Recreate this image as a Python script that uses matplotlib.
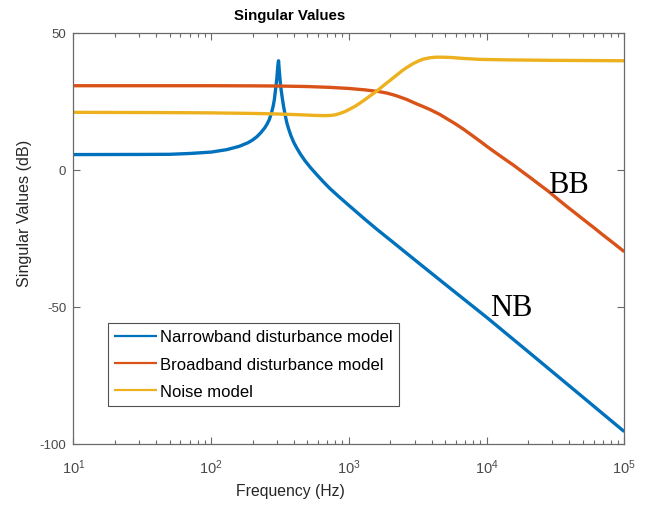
import matplotlib
matplotlib.use("Agg")
import matplotlib.pyplot as plt
from matplotlib.ticker import LogLocator, FixedLocator, NullLocator

plt.rcParams['font.family'] = ['Liberation Sans', 'DejaVu Sans']
plt.rcParams['mathtext.fontset'] = 'custom'
plt.rcParams['mathtext.rm'] = 'Liberation Sans'
plt.rcParams['mathtext.it'] = 'Liberation Sans:italic'
plt.rcParams['mathtext.bf'] = 'Liberation Sans:bold'
plt.rcParams['axes.unicode_minus'] = False

# ---- data ----
freq_nb = [10, 30, 50, 70, 100, 130, 160, 185, 200, 215, 230, 245, 255, 265, 275, 282, 288,
           292, 296, 300, 303, 306, 309,
           313, 316, 320, 327, 335, 345, 354, 366, 380, 398, 419, 445, 480, 530, 585, 650,
           730, 850, 1000, 1300, 1600, 2000, 3000, 5000, 10000, 20000, 50000, 100000]
mag_nb = [5.5, 5.55, 5.6, 5.9, 6.4, 7.3, 8.5, 9.8, 10.8, 12.0, 13.5, 15.2, 16.6, 18.3, 20.8, 23.0, 25.5,
          28.0, 30.5, 33.0, 35.8, 38.3, 39.7,
          36.0, 33.5, 30.5, 27.0, 23.5, 20.0, 17.3, 14.8, 12.4, 10.0, 7.9, 5.7, 3.3, 0.6, -1.8, -4.3,
          -6.9, -9.9, -13.0, -17.95, -21.75, -25.65, -32.8, -41.75, -53.8, -66.3, -82.9, -95.5]

freq_bb = [10, 100, 200, 300, 500, 730, 1000, 1300, 1640, 1900, 2200, 2630, 3100, 3500, 3890,
           4590, 5140, 5900, 6780, 7800, 8950, 10300, 11860, 13600, 15630, 18000, 20650, 24000,
           28000, 33000, 38000, 44000, 50000, 60000, 70000, 85000, 100000]
mag_bb = [30.6, 30.6, 30.55, 30.5, 30.3, 30.0, 29.6, 29.1, 28.5, 27.9, 27.0, 25.6, 24.0, 22.9, 21.9,
          20.1, 18.6, 16.8, 14.8, 12.6, 10.4, 8.1, 5.9, 3.8, 1.7, -0.6, -2.8, -5.3,
          -7.8, -10.8, -13.3, -15.8, -18.0, -21.1, -23.8, -27.1, -29.9]

freq_noise = [10, 50, 100, 200, 306, 450, 550, 650, 731, 800, 863, 940, 1020, 1110, 1208, 1300,
              1400, 1520, 1640, 1800, 2000, 2230, 2430, 2630, 2940, 3200, 3475, 3880, 4300, 4800,
              5500, 7000, 8950, 15000, 30000, 100000]
mag_noise = [20.9, 20.8, 20.7, 20.5, 20.3, 20.0, 19.8, 19.7, 19.75, 20.0, 20.5, 21.2, 22.1, 23.1, 24.3, 25.4,
             26.6, 27.9, 29.1, 30.8, 32.6, 34.5, 36.0, 37.2, 38.7, 39.6, 40.3, 40.8, 41.0, 41.0,
             40.9, 40.5, 40.2, 40.0, 39.85, 39.7]

series_labels = ['Narrowband disturbance model', 'Broadband disturbance model', 'Noise model']
series_colors = ['#0072BD', '#D95319', '#EDB120']
y_ticks = [-100, -50, 0, 50]
x_limits = [10, 100000]
y_limits = [-100, 50]

# ---- figure ----
W, H = 648, 506
fig = plt.figure(figsize=(W / 100, H / 100), dpi=100)
ax = fig.add_axes([73.3 / W, (H - 445) / H, 551 / W, 411.5 / H])

lw = 2.4
for fx, my, c, lab in [(freq_nb, mag_nb, series_colors[0], series_labels[0]),
                       (freq_bb, mag_bb, series_colors[1], series_labels[1]),
                       (freq_noise, mag_noise, series_colors[2], series_labels[2])]:
    ax.plot(fx, my, color=c, lw=lw, label=lab, solid_joinstyle='round', solid_capstyle='butt')

ax.set_xscale('log')
ax.set_xlim(x_limits)
ax.set_ylim(y_limits)
ax.yaxis.set_major_locator(FixedLocator(y_ticks))
ax.yaxis.set_minor_locator(NullLocator())
ax.xaxis.set_major_locator(LogLocator(base=10, numticks=10))
ax.xaxis.set_minor_locator(LogLocator(base=10, subs=range(2, 10), numticks=20))

spine_c = '#6a6a6a'
for s in ax.spines.values():
    s.set_color(spine_c)
    s.set_linewidth(0.9)
ax.tick_params(which='both', direction='in', top=True, right=True, color=spine_c,
               labelcolor='#4a4a4a', width=0.8)
ax.tick_params(axis='y', labelsize=9.5, pad=5)
ax.tick_params(axis='x', labelsize=10.5, pad=10)
ax.tick_params(which='major', length=5)
ax.tick_params(which='minor', length=2.6)

leg = ax.legend(loc='lower left', bbox_to_anchor=(0.0624, 0.0931), borderaxespad=0,
                fontsize=12, frameon=True, fancybox=False, edgecolor='#262626',
                handlelength=2.55, handletextpad=0.2, labelspacing=0.74, borderpad=0.4)
leg.get_frame().set_linewidth(0.8)
for h in leg.get_lines():
    h.set_linewidth(1.6)

ax.text(10 ** 4.446, -8.1, 'BB', family='Liberation Serif', fontsize=22, color='black',
        ha='left', va='baseline')
ax.text(10 ** 4.025, -53.0, 'NB', family='Liberation Serif', fontsize=22, color='black',
        ha='left', va='baseline')

fig.text(290 / W, 1 - 16 / H, 'Singular Values', ha='center', va='center',
         fontsize=10.8, fontweight='bold', color='black')
fig.text(290 / W, 1 - 492 / H, 'Frequency (Hz)', ha='center', va='center',
         fontsize=11.3, color='#262626')
fig.text(25 / W, 1 - 213 / H, 'Singular Values (dB)', ha='center', va='center',
         rotation=90, fontsize=11.6, color='#262626')

fig.savefig('out.png', dpi=100, facecolor='white')
